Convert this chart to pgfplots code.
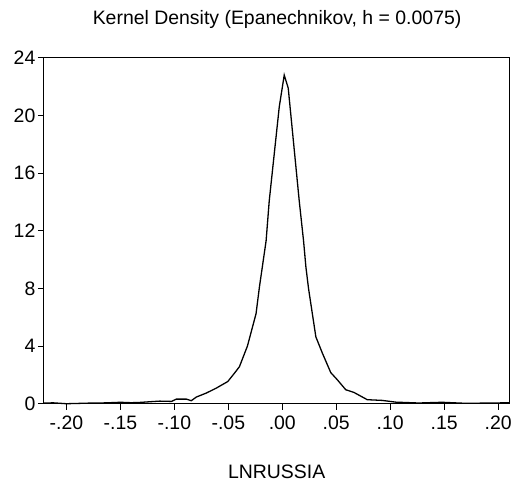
\documentclass[border=0pt]{standalone}
\usepackage{pgfplots}
\pgfplotsset{compat=1.18}
\usepackage{fontspec}
\setmainfont{Liberation Sans}
\begin{document}
\begin{tikzpicture}
\begin{axis}[
  scale only axis, width=467pt, height=347pt,
  xmin=-0.2209, xmax=0.2104, ymin=0, ymax=24,
  xtick={-0.2,-0.15,-0.1,-0.05,0,0.05,0.1,0.15,0.2},
  xticklabels={-.20,-.15,-.10,-.05,.00,.05,.10,.15,.20},
  ytick={0,4,8,12,16,20,24},
  tick align=outside, xtick pos=bottom, ytick pos=left,
  major tick length=6pt,
  axis line style={line width=1.1pt},
  every tick/.style={line width=0.9pt, black},
  tick label style={font=\fontsize{19.5}{23}\selectfont},
  /pgf/number format/assume math mode=true,
  xticklabel style={yshift=-3pt},
  yticklabel style={xshift=1pt},
  clip=false,
]
\addplot[black, line width=1.3pt] coordinates {
(-0.2209,0.05) (-0.212,0.06) (-0.2,0.0) (-0.18,0.04) (-0.163,0.06) (-0.15,0.1) (-0.14,0.07)
(-0.132,0.09) (-0.12,0.15) (-0.1135,0.18) (-0.1027,0.16) (-0.0981,0.32) (-0.0889,0.32)
(-0.0843,0.21) (-0.0797,0.46) (-0.0704,0.74) (-0.0612,1.08) (-0.0505,1.54) (-0.0443,2.12)
(-0.0397,2.57) (-0.0323,4.0) (-0.0243,6.25) (-0.0212,8.09) (-0.0150,11.3) (-0.0121,14.07)
(-0.0028,20.6) (0.0018,22.8) (0.0055,21.9) (0.0157,14.07) (0.0197,11.3) (0.0219,9.47)
(0.0243,8.0) (0.0311,4.64) (0.0372,3.5) (0.0449,2.16) (0.0510,1.66) (0.0588,0.97)
(0.0665,0.78) (0.0787,0.28) (0.0926,0.23) (0.105,0.11) (0.1264,0.05) (0.148,0.1)
(0.1695,0.03) (0.197,0.05) (0.2104,0.07)
};
\node[font=\fontsize{19.5}{23}\selectfont] at (axis description cs:0.501,1.1095) {Kernel Density (Epanechnikov, h = 0.0075)};
\node[font=\fontsize{19.5}{23}\selectfont] at (axis description cs:0.5,-0.196) {LNRUSSIA};
\path[use as bounding box] (axis description cs:-0.0942,-0.2277) rectangle (axis description cs:1.0086,1.1671);
\end{axis}
\end{tikzpicture}
\end{document}
